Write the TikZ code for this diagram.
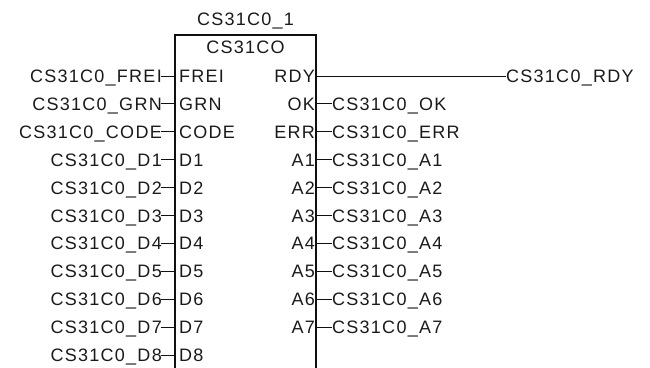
\documentclass[tikz,border=0pt]{standalone}
\usepackage{fontspec}
\setmainfont{Liberation Sans}[LetterSpace=7]
\usetikzlibrary{positioning, calc}
\definecolor{TxtPri}{HTML}{1A1A1A}
\definecolor{LineBlk}{HTML}{101010}

\begin{document}
\begin{tikzpicture}[
      x=1pt, y=-1pt,
      lbl/.style={font=\fontsize{18}{20}\selectfont, text=TxtPri, inner sep=0pt,
                  text height=13pt, text depth=0pt},
      pinL/.style={lbl, anchor=west},
      pinR/.style={lbl, anchor=east},
      sigL/.style={lbl, anchor=east},
      sigR/.style={lbl, anchor=west},
      boxline/.style={draw=LineBlk, line width=1.3pt},
      stub/.style={draw=LineBlk, line width=0.9pt}
    ]
    \useasboundingbox (0,0) rectangle (650,367);

    % block outline, open at the bottom
    \coordinate (nw) at (175,35);
    \coordinate (ne) at (316,35);
    \draw[boxline] (175,370) -- (nw) -- (ne) -- (316,370);

    \node[lbl] (inst) at (245.5,19) {CS31C0\_1};
    \node[lbl] (type) at (245.5,47) {CS31CO};

    % inputs
    \node[pinL] (frei) at (179,76)    {FREI};
    \node[pinL] (grn)  at (179,103.9) {GRN};
    \node[pinL] (code) at (179,131.8) {CODE};
    \node[pinL] (d1)   at (179,159.7) {D1};
    \node[pinL] (d2)   at (179,187.6) {D2};
    \node[pinL] (d3)   at (179,215.5) {D3};
    \node[pinL] (d4)   at (179,243.4) {D4};
    \node[pinL] (d5)   at (179,271.3) {D5};
    \node[pinL] (d6)   at (179,299.2) {D6};
    \node[pinL] (d7)   at (179,327.1) {D7};
    \node[pinL] (d8)   at (179,355)   {D8};

    \node[sigL, left=17pt of frei] (s-frei) {CS31C0\_FREI};
    \node[sigL, left=17pt of grn]  (s-grn)  {CS31C0\_GRN};
    \node[sigL, left=17pt of code] (s-code) {CS31C0\_CODE};
    \node[sigL, left=17pt of d1]   (s-d1)   {CS31C0\_D1};
    \node[sigL, left=17pt of d2]   (s-d2)   {CS31C0\_D2};
    \node[sigL, left=17pt of d3]   (s-d3)   {CS31C0\_D3};
    \node[sigL, left=17pt of d4]   (s-d4)   {CS31C0\_D4};
    \node[sigL, left=17pt of d5]   (s-d5)   {CS31C0\_D5};
    \node[sigL, left=17pt of d6]   (s-d6)   {CS31C0\_D6};
    \node[sigL, left=17pt of d7]   (s-d7)   {CS31C0\_D7};
    \node[sigL, left=17pt of d8]   (s-d8)   {CS31C0\_D8};

    \draw[stub] ([xshift=-1.5pt]s-frei.east) -- (s-frei -| nw);
    \draw[stub] ([xshift=-1.5pt]s-grn.east)  -- (s-grn -| nw);
    \draw[stub] ([xshift=-1.5pt]s-code.east) -- (s-code -| nw);
    \draw[stub] ([xshift=-1.5pt]s-d1.east)   -- (s-d1 -| nw);
    \draw[stub] ([xshift=-1.5pt]s-d2.east)   -- (s-d2 -| nw);
    \draw[stub] ([xshift=-1.5pt]s-d3.east)   -- (s-d3 -| nw);
    \draw[stub] ([xshift=-1.5pt]s-d4.east)   -- (s-d4 -| nw);
    \draw[stub] ([xshift=-1.5pt]s-d5.east)   -- (s-d5 -| nw);
    \draw[stub] ([xshift=-1.5pt]s-d6.east)   -- (s-d6 -| nw);
    \draw[stub] ([xshift=-1.5pt]s-d7.east)   -- (s-d7 -| nw);
    \draw[stub] ([xshift=-1.5pt]s-d8.east)   -- (s-d8 -| nw);

    % outputs
    \node[pinR] (rdy) at (315,76)    {RDY};
    \node[pinR] (ok)  at (315,103.9) {OK};
    \node[pinR] (err) at (315,131.8) {ERR};
    \node[pinR] (a1)  at (315,159.7) {A1};
    \node[pinR] (a2)  at (315,187.6) {A2};
    \node[pinR] (a3)  at (315,215.5) {A3};
    \node[pinR] (a4)  at (315,243.4) {A4};
    \node[pinR] (a5)  at (315,271.3) {A5};
    \node[pinR] (a6)  at (315,299.2) {A6};
    \node[pinR] (a7)  at (315,327.1) {A7};

    \node[sigR] (s-rdy) at (506,76) {CS31C0\_RDY};
    \node[sigR, right=17pt of ok]  (s-ok)  {CS31C0\_OK};
    \node[sigR, right=17pt of err] (s-err) {CS31C0\_ERR};
    \node[sigR, right=17pt of a1]  (s-a1)  {CS31C0\_A1};
    \node[sigR, right=17pt of a2]  (s-a2)  {CS31C0\_A2};
    \node[sigR, right=17pt of a3]  (s-a3)  {CS31C0\_A3};
    \node[sigR, right=17pt of a4]  (s-a4)  {CS31C0\_A4};
    \node[sigR, right=17pt of a5]  (s-a5)  {CS31C0\_A5};
    \node[sigR, right=17pt of a6]  (s-a6)  {CS31C0\_A6};
    \node[sigR, right=17pt of a7]  (s-a7)  {CS31C0\_A7};

    \draw[stub] (s-rdy -| ne) -- (s-rdy.west);
    \draw[stub] (s-ok -| ne)  -- (s-ok.west);
    \draw[stub] (s-err -| ne) -- (s-err.west);
    \draw[stub] (s-a1 -| ne)  -- (s-a1.west);
    \draw[stub] (s-a2 -| ne)  -- (s-a2.west);
    \draw[stub] (s-a3 -| ne)  -- (s-a3.west);
    \draw[stub] (s-a4 -| ne)  -- (s-a4.west);
    \draw[stub] (s-a5 -| ne)  -- (s-a5.west);
    \draw[stub] (s-a6 -| ne)  -- (s-a6.west);
    \draw[stub] (s-a7 -| ne)  -- (s-a7.west);

  \end{tikzpicture}
\end{document}
